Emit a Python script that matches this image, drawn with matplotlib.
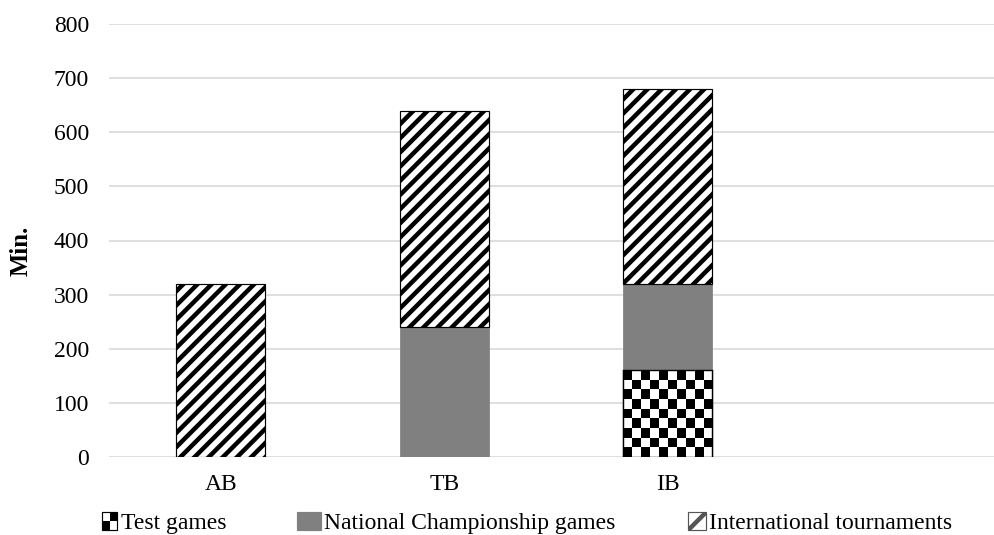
import matplotlib
matplotlib.use("Agg")
import matplotlib.pyplot as plt
import numpy as np
from matplotlib.legend_handler import HandlerBase
from matplotlib.patches import Rectangle, Patch

categories = ["AB", "TB", "IB"]
test_games = [0, 0, 160]
national = [0, 240, 160]
international = [320, 400, 360]
y_ticks = [0, 100, 200, 300, 400, 500, 600, 700, 800]
legend_labels = ["Test games", "National Championship games", "International tournaments"]

DPI = 85
W, H = 995, 535
plt.rcParams['font.family'] = ['Liberation Serif', 'DejaVu Serif']
plt.rcParams['hatch.linewidth'] = 3.8

fig = plt.figure(figsize=(W / DPI, H / DPI), dpi=DPI)
ax = fig.add_axes([109 / W, (H - 457) / H, 1 - 109 / W, (457 - 24) / H])

x = np.arange(len(categories))
bw = 0.40
t = np.array(test_games)
n = np.array(national)
i_ = np.array(international)

bars_t = ax.bar(x, t, bw, color='white', edgecolor='black', linewidth=1, zorder=3)
bars_n = ax.bar(x, n, bw, bottom=t, color='#808080', edgecolor='#8c8c8c', linewidth=0.8, zorder=3)
bars_i = ax.bar(x, i_, bw, bottom=t + n, color='white', edgecolor='black', hatch='//', linewidth=1, zorder=3)

# checkerboard fill for test games bars
sq = 9.2  # pixel size of a square
px_per_unit_y = (457 - 24) / 800.0
px_per_unit_x = 223.5
for b in bars_t:
    h = b.get_height()
    if h <= 0:
        continue
    x0, y0, w = b.get_x(), b.get_y(), b.get_width()
    nx = int(round(w * px_per_unit_x / sq))
    ny = int(round(h * px_per_unit_y / sq))
    board = (np.indices((ny, nx)).sum(axis=0) % 2).astype(float)
    im = ax.imshow(board, cmap='gray', vmin=0, vmax=1, extent=(x0, x0 + w, y0, y0 + h),
                   origin='upper', interpolation='nearest', aspect='auto', zorder=3.5)
    im.set_clip_path(b)
    ax.add_patch(Rectangle((x0, y0), w, h, facecolor='none', edgecolor='black', linewidth=1.2, zorder=4))

ax.set_xlim(-0.5, -0.5 + (W - 109) / px_per_unit_x)
ax.set_ylim(0, 800)
ax.set_yticks(y_ticks)
ax.set_xticks(x)
ax.set_xticklabels(categories)
ax.tick_params(axis='both', length=0, labelsize=20)
ax.tick_params(axis='y', pad=17)
ax.tick_params(axis='x', pad=14.5)
ax.yaxis.grid(True, color='#d9d9d9', linewidth=1.4, zorder=0)
ax.set_axisbelow(True)
for s in ax.spines.values():
    s.set_visible(False)
ax.set_ylabel("Min.", fontsize=21, fontweight='bold', va='center')
ax.yaxis.set_label_coords((21 - 109) / (W - 109), (457 - 251) / 433)


class CheckerHandler(HandlerBase):
    def create_artists(self, legend, orig_handle, xdescent, ydescent, width, height, fontsize, trans):
        arts = []
        w2, h2 = width / 2, height / 2
        for ci in range(2):
            for cj in range(2):
                col = 'black' if (ci + cj) % 2 == 0 else 'white'
                arts.append(Rectangle((-xdescent + ci * w2, -ydescent + cj * h2), w2, h2,
                                      facecolor=col, edgecolor='none', transform=trans))
        arts.append(Rectangle((-xdescent, -ydescent), width, height, facecolor='none',
                              edgecolor='black', linewidth=1, transform=trans))
        return arts


h_test = Patch(facecolor='white', edgecolor='black')
h_nat = Patch(facecolor='#808080', edgecolor='#808080')
h_int = Patch(facecolor='white', edgecolor='#555555', hatch='/', linewidth=1)

handles = [h_test, h_nat, h_int]
handle_x = [102, 297, 688]
handle_len = [0.65, 1.0, 0.75]
for hdl, lab, hx, hl in zip(handles, legend_labels, handle_x, handle_len):
    fig.legend([hdl], [lab], loc='center left',
               bbox_to_anchor=(hx / W, (H - 523) / H), frameon=False,
               fontsize=20, handlelength=hl, handleheight=0.8, handletextpad=0.15,
               borderaxespad=0.0, borderpad=0.0,
               handler_map={h_test: CheckerHandler()})

fig.savefig("out.png", dpi=DPI)
